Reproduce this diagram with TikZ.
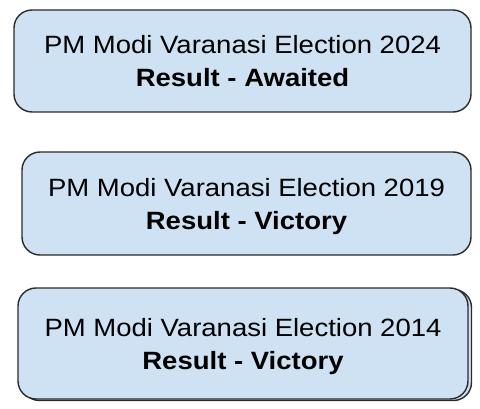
\documentclass[tikz,border=0pt]{standalone}
\usepackage{fontspec}
\setmainfont{Liberation Sans}[FakeStretch=1.1]
\usetikzlibrary{shadows}
\definecolor{boxblue}{HTML}{CFE2F3}
\definecolor{boxline}{HTML}{2B2B2B}

\begin{document}
\begin{tikzpicture}[x=1pt,y=1pt,
    result/.style={draw=boxline, line width=1.4pt, fill=boxblue, rounded corners=18pt,
        align=center, inner sep=0pt, text depth=0pt, font=\fontsize{25}{33}\selectfont}]
    \useasboundingbox (0,0) rectangle (480,408);
    \node[result, minimum width=457pt, minimum height=102pt] (e2024) at (242.5,347)
        {PM Modi Varanasi Election 2024\\\textbf{Result - Awaited}};
    \node[result, minimum width=449pt, minimum height=103pt] (e2019) at (246.5,204.5)
        {PM Modi Varanasi Election 2019\\\textbf{Result - Victory}};
    \node[result, copy shadow={shadow xshift=3.5pt, shadow yshift=-1.5pt},
        minimum width=450pt, minimum height=111pt] (e2014) at (243,64.5)
        {PM Modi Varanasi Election 2014\\\textbf{Result - Victory}};
\end{tikzpicture}
\end{document}
